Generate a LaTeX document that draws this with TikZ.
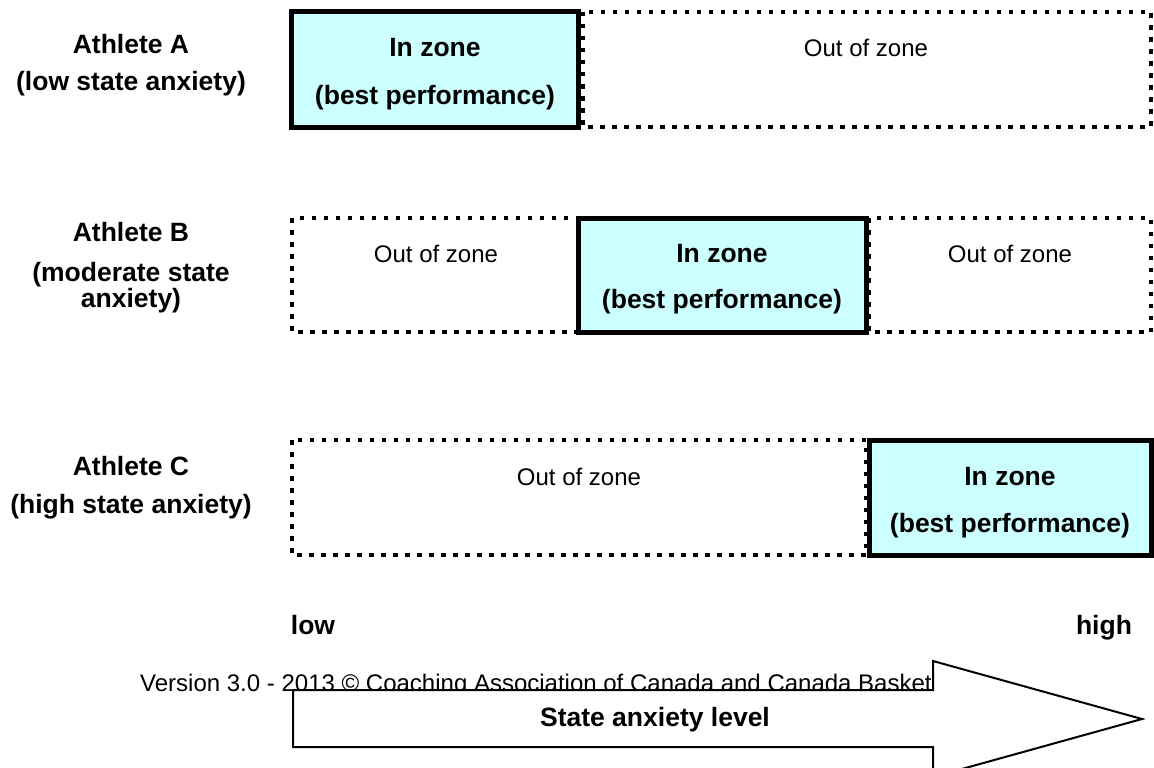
\documentclass[tikz,border=0pt]{standalone}
\usepackage{fontspec}
\setmainfont{Liberation Sans}
\definecolor{zonecyan}{HTML}{CCFFFF}
\begin{document}
\begin{tikzpicture}[x=1pt,y=-1pt,
  zonebox/.style={draw=black, line width=5pt, fill=zonecyan},
  outbox/.style={draw=black, line width=4.5pt, dash pattern=on 4.5pt off 7.5pt},
  boldtxt/.style={font=\fontsize{26.5}{32}\selectfont\bfseries, inner sep=0pt, anchor=base},
  plaintxt/.style={font=\fontsize{24}{29}\selectfont, inner sep=0pt, anchor=base},
  arrowshape/.style={draw=black, line width=2pt, fill=white, line join=miter}
]
\useasboundingbox (0,0) rectangle (1154,768);
\clip (0,0) rectangle (1154,768);

% row labels
\node[boldtxt] (la1) at (131,54) {Athlete A};
\node[boldtxt] (la2) at (131,91) {(low state anxiety)};
\node[boldtxt] (lb1) at (131,241) {Athlete B};
\node[boldtxt] (lb2) at (131,281) {(moderate state};
\node[boldtxt] (lb3) at (131,307) {anxiety)};
\node[boldtxt] (lc1) at (131,475) {Athlete C};
\node[boldtxt] (lc2) at (131,513) {(high state anxiety)};

% out-of-zone (dotted) boxes
\draw[outbox] (583,12) rectangle (1151,127);
\draw[outbox] (292,218) rectangle (580,332);
\draw[outbox] (869,218) rectangle (1151,332);
\draw[outbox] (292,440) rectangle (866,555);

% in-zone (solid) boxes
\draw[zonebox] (291,12) rectangle (578,127);
\draw[zonebox] (578,218) rectangle (866,332);
\draw[zonebox] (869,440) rectangle (1151,555);

% row A texts
\node[boldtxt] (za1) at (435,57) {In zone};
\node[boldtxt] (za2) at (435,104) {(best performance)};
\node[plaintxt] (oa) at (866,57) {Out of zone};

% row B texts
\node[plaintxt] (ob1) at (436,262) {Out of zone};
\node[boldtxt] (zb1) at (722,262) {In zone};
\node[boldtxt] (zb2) at (722,308) {(best performance)};
\node[plaintxt] (ob2) at (1010,262) {Out of zone};

% row C texts
\node[plaintxt] (oc) at (579,485) {Out of zone};
\node[boldtxt] (zc1) at (1010,485) {In zone};
\node[boldtxt] (zc2) at (1010,532) {(best performance)};

% scale ends
\node[boldtxt] (lo) at (313,634) {low};
\node[boldtxt] (hi) at (1104,634) {high};

% footer line, partly covered by the arrow
\node[plaintxt, anchor=base west] (foot) at (140,691)
  {Version 3.0 - 2013 © Coaching Association of Canada and Canada Basketball};

% axis arrow
\draw[arrowshape] (293,690) -- (933,690) -- (933,661) -- (1142,719)
  -- (933,777) -- (933,747) -- (293,747) -- cycle;
\node[boldtxt] (axis) at (655,726) {State anxiety level};
\end{tikzpicture}
\end{document}
